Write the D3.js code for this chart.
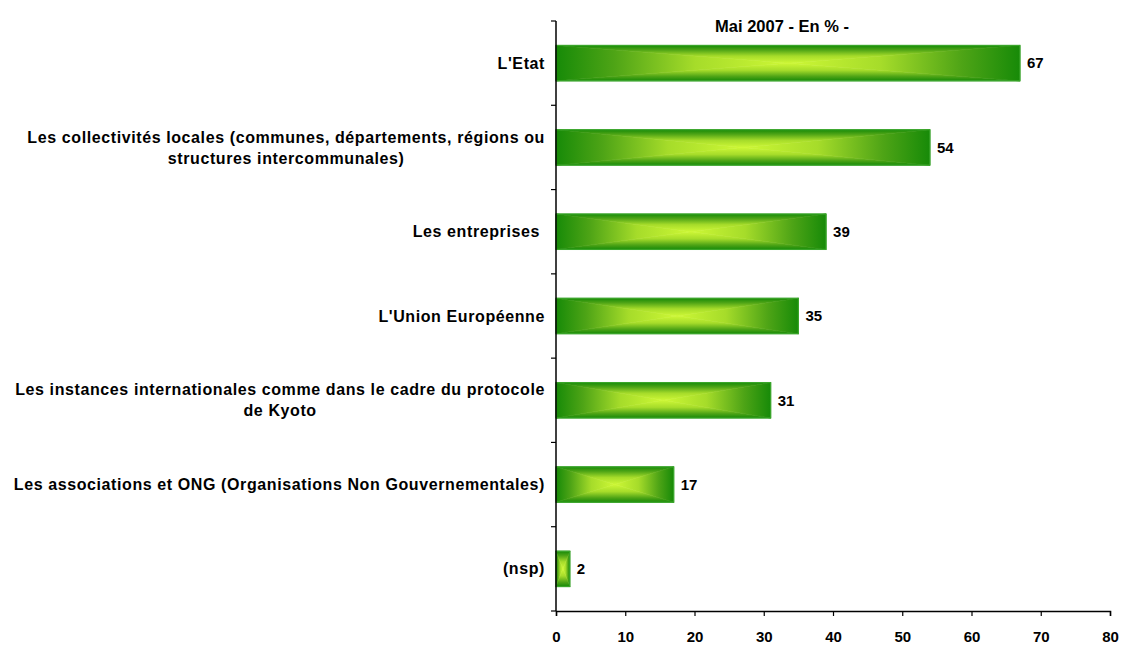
<!DOCTYPE html>
<html>
<head>
<meta charset="utf-8">
<script src="https://cdn.jsdelivr.net/npm/d3@7"></script>
<style>
  body { margin: 0; background: #fff; }
  text { font-family: Arial, "Liberation Sans", sans-serif; font-weight: bold; fill: #000; }
</style>
</head>
<body>
<svg id="chart" width="1122" height="646"></svg>
<script>
// ***************** DATA ********************
var categories = [
  ["L'Etat"],
  ["Les collectivités locales (communes, départements, régions ou", "structures intercommunales)"],
  ["Les entreprises "],
  ["L'Union Européenne"],
  ["Les instances internationales comme dans le cadre du protocole", "de Kyoto"],
  ["Les associations et ONG (Organisations Non Gouvernementales)"],
  ["(nsp)"]
];
var values = [67, 54, 39, 35, 31, 17, 2];
var xTicks = [0, 10, 20, 30, 40, 50, 60, 70, 80];
var title = "Mai 2007 - En % -";

var margin = {top: 21, left: 556, right: 6, bottom: 35};
var width = 1122, height = 646;
var fontSize = 15;
var svg = d3.select("#chart");

var x = d3.scaleLinear().domain([0, 80]).range([margin.left, width - margin.right - 6]);
var y = d3.scaleBand().domain(d3.range(values.length)).range([margin.top, height - margin.bottom]).paddingInner(0.58).paddingOuter(0.29);

// ***************** GRADIENTS (rectangular "from centre" fill) ********************
var defs = svg.append("defs");
var stops = [
  {o: 0, c: "#178a08"},
  {o: 0.25, c: "#4ea416"},
  {o: 0.6, c: "#a6dc2a"},
  {o: 1, c: "#cdf736"}
];
var addGrad = function(id, x1, y1, x2, y2){
  var g = defs.append("linearGradient").attr("id", id)
    .attr("x1", x1).attr("y1", y1).attr("x2", x2).attr("y2", y2);
  stops.forEach(function(s){
    g.append("stop").attr("offset", s.o).attr("stop-color", s.c);
  });
};
addGrad("gl", 0, 0, 1, 0);
addGrad("gr", 1, 0, 0, 0);
addGrad("gt", 0, 0, 0, 1);
addGrad("gb", 0, 1, 0, 0);

// ***************** BARS ********************
var bars = svg.append("g").selectAll("g")
  .data(values)
  .enter()
  .append("g");

bars.each(function(d, i){
  var g = d3.select(this);
  var x0 = x(0), x1 = x(d), y0 = y(i), y1 = y(i) + y.bandwidth();
  var cx = (x0 + x1) / 2, cy = (y0 + y1) / 2;
  var pieces = [
    {pts: [[x0, y0], [cx, cy], [x0, y1]], f: "gl"},
    {pts: [[x1, y0], [cx, cy], [x1, y1]], f: "gr"},
    {pts: [[x0, y0], [x1, y0], [cx, cy]], f: "gt"},
    {pts: [[x0, y1], [x1, y1], [cx, cy]], f: "gb"}
  ];
  pieces.forEach(function(p){
    g.append("polygon")
      .attr("points", p.pts.map(function(q){ return q.join(","); }).join(" "))
      .attr("fill", "url(#" + p.f + ")")
      .attr("stroke", "url(#" + p.f + ")")
      .attr("stroke-width", 0.6);
  });
  g.append("rect")
    .attr("x", x0).attr("y", y0)
    .attr("width", x1 - x0).attr("height", y1 - y0)
    .attr("fill", "none")
    .attr("stroke", "#3aa52a")
    .attr("stroke-width", 1.2);
});

// value labels
svg.append("g").selectAll("text")
  .data(values)
  .enter()
  .append("text")
  .attr("x", function(d){ return x(d) + 7; })
  .attr("y", function(d, i){ return y(i) + y.bandwidth() / 2; })
  .attr("dy", ".35em")
  .attr("font-size", fontSize)
  .text(function(d){ return d; });

// ***************** AXES ********************
var xAxis = svg.append("g")
  .attr("transform", "translate(0," + (height - margin.bottom) + ")")
  .call(d3.axisBottom(x).tickValues(xTicks).tickSize(5).tickPadding(15));
xAxis.selectAll("text").attr("font-size", fontSize).style("font-family", "Arial, 'Liberation Sans', sans-serif").style("font-weight", "bold");

var yEdges = d3.range(values.length + 1).map(function(i){
  return margin.top + i * y.step();
});
var yAxis = svg.append("g");
yAxis.append("line")
  .attr("x1", x(0)).attr("x2", x(0))
  .attr("y1", margin.top).attr("y2", height - margin.bottom)
  .attr("stroke", "#000").attr("stroke-width", 1.5);
yAxis.selectAll("line.tick")
  .data(yEdges)
  .enter()
  .append("line")
  .attr("x1", x(0) - 5).attr("x2", x(0))
  .attr("y1", function(d){ return d; }).attr("y2", function(d){ return d; })
  .attr("stroke", "#000").attr("stroke-width", 1.2);
xAxis.select(".domain").attr("stroke-width", 1.5);
xAxis.selectAll(".tick line").attr("stroke-width", 1.2);

// category labels (right edge at labelRight, multi-line blocks centred)
var labelRight = x(0) - 11;
var lineH = 21;
var labels = svg.append("g").selectAll("g")
  .data(categories)
  .enter()
  .append("g");
labels.each(function(lines, i){
  var g = d3.select(this);
  var cy = y(i) + y.bandwidth() / 2;
  var top = cy - (lines.length - 1) * lineH / 2;
  var ts = lines.map(function(l, k){
    return g.append("text")
      .attr("y", top + k * lineH)
      .attr("dy", ".35em")
      .attr("font-size", 16)
      .style("letter-spacing", "0.6px")
      .style("white-space", "pre")
      .text(l);
  });
  var maxW = d3.max(ts, function(t){ return t.node().getComputedTextLength(); });
  ts.forEach(function(t){
    t.attr("text-anchor", "middle").attr("x", labelRight - maxW / 2);
  });
});

// title
svg.append("text")
  .attr("x", 782).attr("y", 32)
  .attr("text-anchor", "middle")
  .attr("font-size", 16.5)
  .text(title);
</script>
</body>
</html>
